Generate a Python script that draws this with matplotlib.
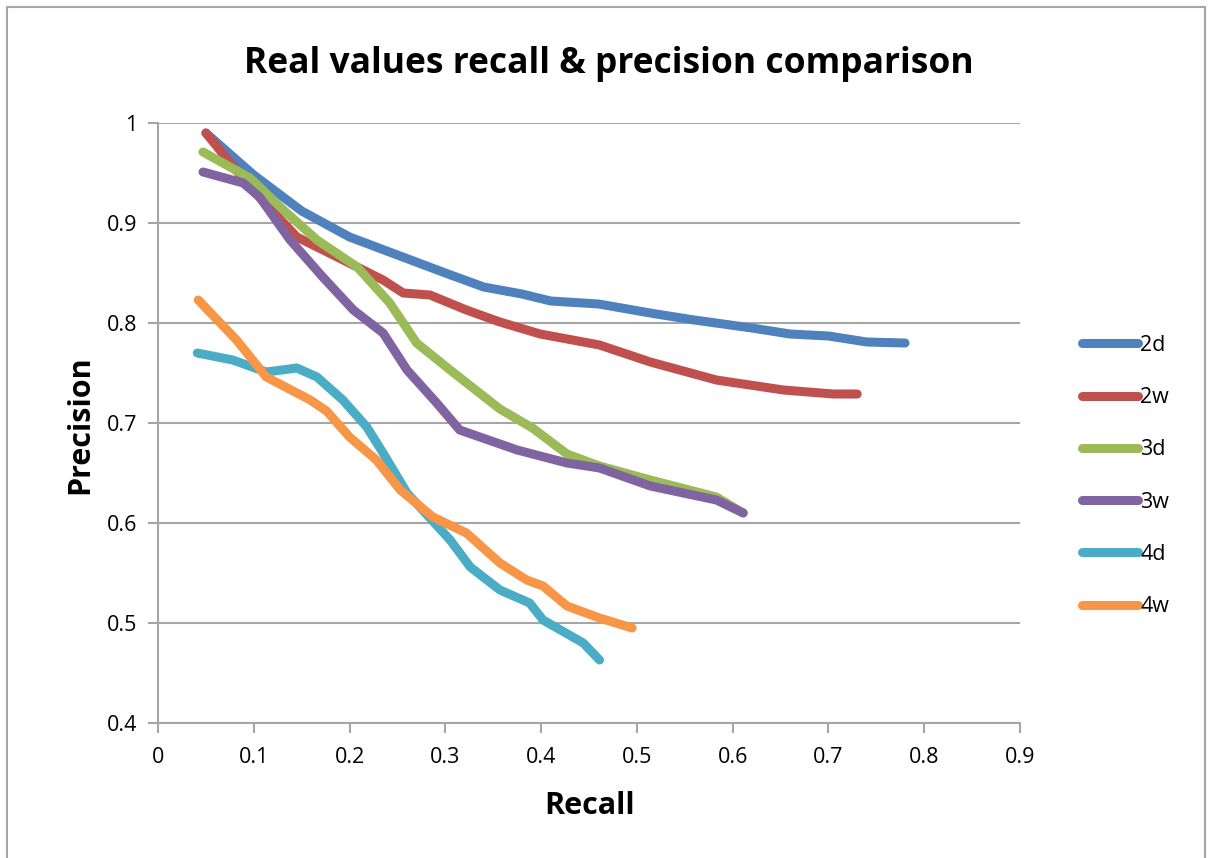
import matplotlib
matplotlib.use("Agg")
import matplotlib.pyplot as plt
from matplotlib.patches import Rectangle

# ---- data ----
labels = ["2d", "2w", "3d", "3w", "4d", "4w"]
colors = ["#4F81BD", "#C0504D", "#9BBB59", "#8064A2", "#4BACC6", "#F79646"]

x_2d = [0.05, 0.10, 0.15, 0.20, 0.25, 0.30, 0.34, 0.38, 0.41, 0.46, 0.52, 0.56, 0.62, 0.66, 0.70, 0.74, 0.78]
y_2d = [0.99, 0.948, 0.912, 0.886, 0.868, 0.850, 0.836, 0.829, 0.822, 0.819, 0.809, 0.803, 0.795, 0.789, 0.787, 0.781, 0.780]

x_2w = [0.05, 0.096, 0.145, 0.208, 0.235, 0.256, 0.284, 0.322, 0.357, 0.399, 0.461, 0.514, 0.583, 0.653, 0.705, 0.73]
y_2w = [0.99, 0.936, 0.886, 0.856, 0.843, 0.830, 0.828, 0.813, 0.801, 0.789, 0.778, 0.761, 0.743, 0.733, 0.729, 0.729]

x_3d = [0.047, 0.096, 0.131, 0.166, 0.208, 0.242, 0.270, 0.305, 0.357, 0.391, 0.427, 0.461, 0.514, 0.583, 0.611]
y_3d = [0.971, 0.945, 0.913, 0.883, 0.856, 0.820, 0.780, 0.753, 0.714, 0.695, 0.669, 0.657, 0.643, 0.626, 0.610]

x_3w = [0.047, 0.089, 0.106, 0.138, 0.172, 0.204, 0.235, 0.260, 0.291, 0.315, 0.375, 0.427, 0.461, 0.514, 0.583, 0.611]
y_3w = [0.951, 0.940, 0.926, 0.883, 0.846, 0.813, 0.790, 0.753, 0.720, 0.693, 0.673, 0.660, 0.655, 0.637, 0.623, 0.610]

x_4d = [0.041, 0.078, 0.113, 0.145, 0.166, 0.193, 0.218, 0.235, 0.260, 0.305, 0.326, 0.357, 0.388, 0.402, 0.444, 0.461]
y_4d = [0.770, 0.763, 0.751, 0.755, 0.746, 0.723, 0.696, 0.670, 0.630, 0.583, 0.556, 0.533, 0.520, 0.503, 0.480, 0.463]

x_4w = [0.042, 0.082, 0.113, 0.159, 0.176, 0.200, 0.228, 0.253, 0.287, 0.322, 0.357, 0.385, 0.402, 0.427, 0.461, 0.495]
y_4w = [0.823, 0.783, 0.746, 0.723, 0.712, 0.686, 0.663, 0.633, 0.606, 0.590, 0.560, 0.543, 0.537, 0.517, 0.505, 0.495]

series_x = [x_2d, x_2w, x_3d, x_3w, x_4d, x_4w]
series_y = [y_2d, y_2w, y_3d, y_3w, y_4d, y_4w]

x_ticks = [0, 0.1, 0.2, 0.3, 0.4, 0.5, 0.6, 0.7, 0.8, 0.9]
x_ticklabels = ["0", "0.1", "0.2", "0.3", "0.4", "0.5", "0.6", "0.7", "0.8", "0.9"]
y_ticks = [0.4, 0.5, 0.6, 0.7, 0.8, 0.9, 1.0]
y_ticklabels = ["0.4", "0.5", "0.6", "0.7", "0.8", "0.9", "1"]

title = "Real values recall & precision comparison"
xlabel = "Recall"
ylabel = "Precision"

# ---- figure ----
plt.rcParams["font.family"] = ["Open Sans", "DejaVu Sans"]
W, H = 1208, 858
fig = plt.figure(figsize=(W / 100, H / 100), dpi=100)
ax = fig.add_axes([158 / W, 1 - 723 / H, (1020 - 158) / W, (723 - 123) / H])

grid_c = "#A6A6A6"
for xs, ys, c, lab in zip(series_x, series_y, colors, labels):
    ax.plot(xs, ys, color=c, lw=6.5, solid_capstyle="round", solid_joinstyle="round", label=lab, zorder=3)

ax.set_xlim(0, 0.9)
ax.set_ylim(0.4, 1.0)
ax.set_xticks(x_ticks)
ax.set_xticklabels(x_ticklabels)
ax.set_yticks(y_ticks)
ax.set_yticklabels(y_ticklabels)
ax.tick_params(axis="both", direction="out", length=7, width=1.5, color=grid_c, labelsize=15.5, labelcolor="black")
ax.tick_params(axis="x", pad=10)
ax.tick_params(axis="y", pad=8)
ax.yaxis.grid(True, color=grid_c, lw=1.5, zorder=0)
ax.set_axisbelow(True)
for s in ["top", "right"]:
    ax.spines[s].set_visible(False)
for s in ["left", "bottom"]:
    ax.spines[s].set_color(grid_c)
    ax.spines[s].set_linewidth(1.5)

fig.text(609 / W, 1 - 64 / H, title, ha="center", va="center", fontsize=25.5, fontweight="bold")
fig.text(590 / W, 1 - 806 / H, xlabel, ha="center", va="center", fontsize=22, fontweight="bold")
fig.text(80 / W, 1 - 425 / H, ylabel, ha="center", va="center", fontsize=22, fontweight="bold", rotation=90)

leg = fig.legend(loc="center left", bbox_to_anchor=(1082 / W, 1 - 476 / H), frameon=False,
                 fontsize=15.5, handlelength=2.6, handletextpad=0.1, labelspacing=1.45,
                 borderpad=0, borderaxespad=0)

fig.patches.append(Rectangle((7 / W, -0.05), (1205 - 7) / W, 1.05 - 7 / H, transform=fig.transFigure,
                             fill=False, edgecolor="#A6A6A6", lw=1.5))

fig.savefig("out.png", dpi=100)
